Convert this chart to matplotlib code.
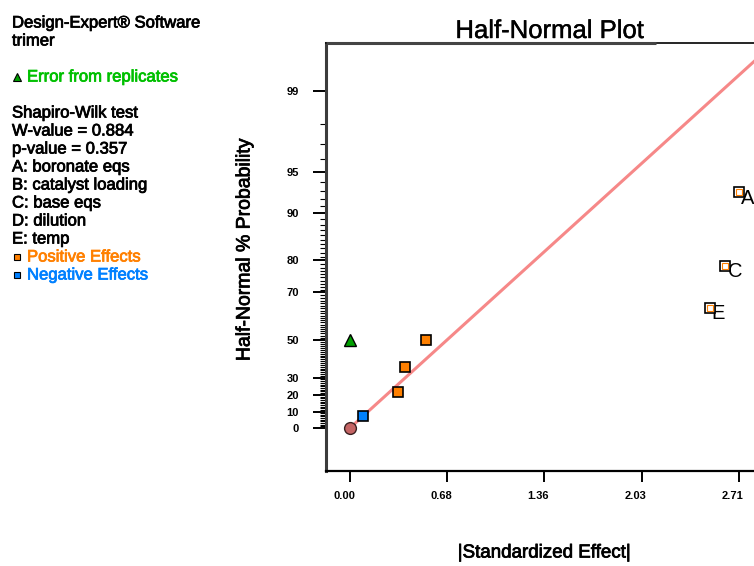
import numpy as np
import matplotlib
matplotlib.use("Agg")
import matplotlib.pyplot as plt
import matplotlib.transforms as mtransforms
import matplotlib.patheffects as pe
from statistics import NormalDist

plt.rcParams['font.family'] = ['Liberation Sans', 'DejaVu Sans']

# ---- data -------------------------------------------------------------
# small (unlabelled) effects
small_effects = [0.093, 0.333, 0.384, 0.530]
small_probs = [7.14, 21.43, 35.71, 50.00]
small_sign = ['neg', 'pos', 'pos', 'pos']

# labelled (selected) effects
big_names = ['E', 'C', 'A']
big_effects = [2.507, 2.617, 2.71]
big_probs = [64.29, 78.57, 92.86]

# error from replicates
error_effect = [0.0]
error_prob = [50.0]

# origin of the fitted line
origin_x = [0.0]
origin_p = [0.0]
fit_slope = 0.995   # standardized effect -> half-normal quantile

x_ticks = [0.0, 0.6775, 1.355, 2.0325, 2.71]
x_tick_labels = ['0.00', '0.68', '1.36', '2.03', '2.71']
y_major = [0, 10, 20, 30, 50, 70, 80, 90, 95, 99]
y_minor = [v for v in range(1, 99) if v not in y_major]

info_lines = ['Shapiro-Wilk test', 'W-value = 0.884', 'p-value = 0.357',
              'A: boronate eqs', 'B: catalyst loading', 'C: base eqs',
              'D: dilution', 'E: temp']

ORANGE = '#ff8000'
BLUE = '#0080ff'
GREEN = '#00a000'


def heavy(color, lw=0.55):
    return [pe.withStroke(linewidth=lw, foreground=color)]


# ---- half-normal probability scale ------------------------------------
nd = NormalDist()
_fwd = np.vectorize(lambda v: nd.inv_cdf(0.5 + v / 200.0), otypes=[float])
_inv = np.vectorize(lambda v: (2.0 * nd.cdf(v) - 1.0) * 100.0, otypes=[float])


def hn_forward(p):
    p = np.clip(np.asarray(p, dtype=float), -99.99999, 99.99999)
    return _fwd(p)


def hn_inverse(z):
    return _inv(np.asarray(z, dtype=float))


# ---- figure -----------------------------------------------------------
W, H = 754, 566
fig = plt.figure(figsize=(W / 100, H / 100), dpi=100)

ax_l, ax_r, ax_t, ax_b = 326, 774, 43, 471
ax = fig.add_axes([ax_l / W, 1 - ax_b / H, (ax_r - ax_l) / W, (ax_b - ax_t) / H])
ax.set_yscale('function', functions=(hn_forward, hn_inverse))

x0, x1 = -0.167, 2.955
ax.set_xlim(x0, x1)
ax.set_ylim(float(hn_inverse(-0.329)), float(hn_inverse(2.943)))

# fitted line through the origin
lx = np.array([0.0, x1])
ax.plot(lx, hn_inverse(fit_slope * lx), color='#f68888', lw=2.2,
        solid_capstyle='round', zorder=2)

ax.plot(origin_x, origin_p, 'o', ms=8.5, mfc='#c46464', mec='#3a2020',
        mew=1.0, zorder=4)

ax.plot(error_effect, error_prob, '^', ms=8.5, mfc=GREEN, mec='black',
        mew=1.0, zorder=4)

for xv, pv, s in zip(small_effects, small_probs, small_sign):
    ax.plot([xv], [pv], 's', ms=6.5, mfc=ORANGE if s == 'pos' else BLUE,
            mec='black', mew=1.2, zorder=4)

for name, xv, pv in zip(big_names, big_effects, big_probs):
    ax.plot([xv], [pv], 's', ms=6.5, mfc='white', mec='black', mew=1.2, zorder=4)
    ax.plot([xv], [pv], 's', ms=4.2, mfc='none', mec=ORANGE, mew=0.8, zorder=5)
    ax.annotate(name, (xv, pv), xytext=(1.5, -4.5), textcoords='offset points',
                fontsize=14.5, ha='left', va='center', color='black',
                annotation_clip=False)

# axes styling
ax.spines['right'].set_visible(False)
ax.spines['left'].set_color('#3c3c3c')
ax.spines['left'].set_linewidth(2.2)
ax.spines['bottom'].set_color('black')
ax.spines['bottom'].set_linewidth(1.6)
ax.spines['top'].set_color('black')
ax.spines['top'].set_linewidth(1.2)
ax.plot([0, (656 - ax_l) / (ax_r - ax_l)], [1, 1], transform=ax.transAxes,
        color='#444444', lw=2.2, clip_on=False, zorder=6, solid_capstyle='butt')

ax.set_yticks(y_major)
ax.set_yticklabels([str(v) for v in y_major])
ax.set_yticks(y_minor, minor=True)
ax.tick_params(axis='y', which='major', direction='out', length=9.5, width=1.4,
               pad=10.0, labelsize=8)
ax.tick_params(axis='y', which='minor', direction='out', length=4.3, width=0.8)
for lbl in ax.get_yticklabels():
    lbl.set_fontweight('bold')

ax.set_xticks(x_ticks)
ax.set_xticklabels(x_tick_labels)
ax.tick_params(axis='x', which='major', direction='out', length=8, width=1.4,
               pad=6.5, labelsize=8)
ax.tick_params(axis='x', which='minor', length=0)
shift = mtransforms.ScaledTranslation(-6 / 100, 0, fig.dpi_scale_trans)
for lbl in ax.get_xticklabels():
    lbl.set_fontweight('bold')
    lbl.set_transform(lbl.get_transform() + shift)

# titles and axis labels
fig.text(550 / W, 1 - 38 / H, 'Half-Normal Plot', fontsize=18.5, ha='center',
         va='baseline', color='black', path_effects=heavy('black', 0.3))
fig.text(544 / W, 1 - 553 / H, '|Standardized Effect|', fontsize=13.5,
         ha='center', va='center', path_effects=heavy('black'))
fig.text(245 / W, 1 - 249 / H, 'Half-Normal % Probability', fontsize=14,
         ha='center', va='center', rotation=90, path_effects=heavy('black'))

# information panel on the left
fs = 12
fig.text(12 / W, 1 - 23 / H, 'Design-Expert\u00ae Software', fontsize=fs,
         va='center', path_effects=heavy('black'))
fig.text(12 / W, 1 - 41 / H, 'trimer', fontsize=fs, va='center',
         path_effects=heavy('black'))
fig.lines.append(plt.Line2D([17 / W], [1 - 77 / H], transform=fig.transFigure,
                            marker='^', ms=5.5, mfc=GREEN, mec='black', mew=0.8))
fig.text(27 / W, 1 - 77 / H, 'Error from replicates', fontsize=fs,
         va='center', color='#00c000', path_effects=heavy('#00c000'))
for i, line in enumerate(info_lines):
    fig.text(12 / W, 1 - (113 + 18 * i) / H, line, fontsize=fs, va='center',
             path_effects=heavy('black'))
fig.lines.append(plt.Line2D([17 / W], [1 - 257 / H], transform=fig.transFigure,
                            marker='s', ms=4.2, mfc=ORANGE, mec='black', mew=0.8))
fig.text(27 / W, 1 - 257 / H, 'Positive Effects', fontsize=fs, va='center',
         color=ORANGE, path_effects=heavy(ORANGE))
fig.lines.append(plt.Line2D([17 / W], [1 - 275 / H], transform=fig.transFigure,
                            marker='s', ms=4.2, mfc=BLUE, mec='black', mew=0.8))
fig.text(27 / W, 1 - 275 / H, 'Negative Effects', fontsize=fs, va='center',
         color=BLUE, path_effects=heavy(BLUE))

fig.savefig('out.png', dpi=100)
